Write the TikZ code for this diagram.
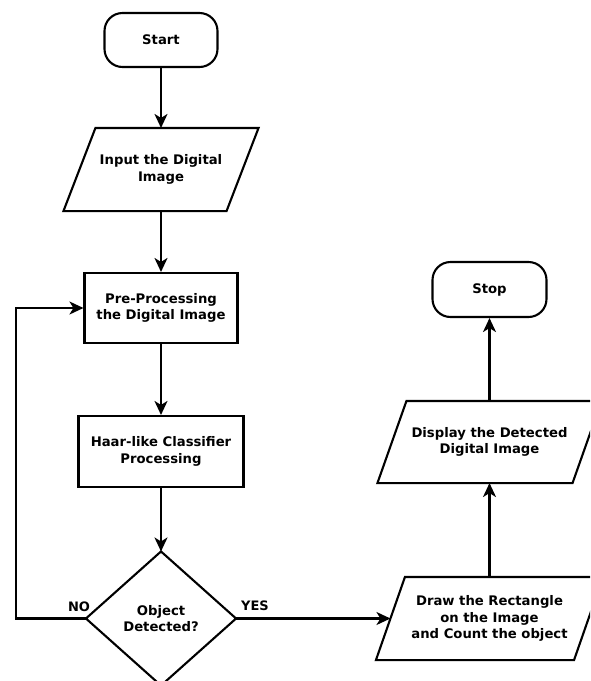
\documentclass[tikz,border=0pt]{standalone}
\usepackage{fontspec}
\setmainfont{DejaVu Sans}
\usetikzlibrary{arrows.meta}
\begin{document}
\begin{tikzpicture}[x=1pt,y=-1pt,
  line width=2.1pt,
  every node/.style={font=\bfseries\fontsize{13.2}{16.8}\selectfont, align=center, inner sep=0pt},
  box/.style={draw, rectangle, minimum width=#1},
  term/.style={draw, rectangle, rounded corners=18pt, minimum width=#1},
  hold/.style={rectangle, minimum width=#1},
  arr/.style={-{Stealth[length=14pt,width=13pt,inset=4pt]}},
  lbl/.style={font=\bfseries\fontsize{13}{15}\selectfont}
]
\clip (0,0) rectangle (590,681);
\fill[white] (0,0) rectangle (590,681);

\node[term=113, minimum height=54] (start) at (161,40) {Start};
\node[hold=161, minimum height=81] (inp) at (161,169.5) {Input the Digital\\Image};
\node[box=153, minimum height=70] (pre) at (161,308) {Pre-Processing\\the Digital Image};
\node[box=165, minimum height=71] (haar) at (161,451.5) {Haar-like Classifier\\Processing};
\node[hold=148, minimum height=132] (dec) at (161,618.5) {Object\\Detected?};
\node[hold=196, minimum height=81] (drw) at (489.5,618.5) {Draw the Rectangle\\on the Image\\and Count the object};
\node[hold=193, minimum height=80] (disp) at (489.5,442) {Display the Detected\\Digital Image};
\node[term=114, minimum height=55] (stop) at (489.5,289.5) {Stop};

% parallelograms
\draw[line join=miter] ([xshift=16]inp.north west) -- ([xshift=16]inp.north east) -- ([xshift=-16]inp.south east) -- ([xshift=-16]inp.south west) -- cycle;
\draw[line join=miter] ([xshift=14.5]drw.north west) -- ([xshift=14.5]drw.north east) -- ([xshift=-14.5]drw.south east) -- ([xshift=-14.5]drw.south west) -- cycle;
\draw[line join=miter] ([xshift=14.5]disp.north west) -- ([xshift=14.5]disp.north east) -- ([xshift=-14.5]disp.south east) -- ([xshift=-14.5]disp.south west) -- cycle;
% diamond
\draw[line join=miter] (dec.north) -- (dec.east) -- (dec.south) -- (dec.west) -- cycle;

% connectors
\draw[arr] (start.south) -- (inp.north);
\draw[arr] (inp.south) -- (pre.north);
\draw[arr] (pre.south) -- (haar.north);
\draw[arr] (haar.south) -- (dec.north);
\coordinate (lc) at (16,618.5);
\draw[arr] (dec.west) -- (lc) |- (pre.west);
\draw[arr] (dec.east) -- (drw.west);
\draw[arr] (drw.north) -- (disp.south);
\draw[arr] (disp.north) -- (stop.south);

\node[lbl] (no) at (79,607) {NO};
\node[lbl] (yes) at (255,606) {YES};
\end{tikzpicture}
\end{document}
